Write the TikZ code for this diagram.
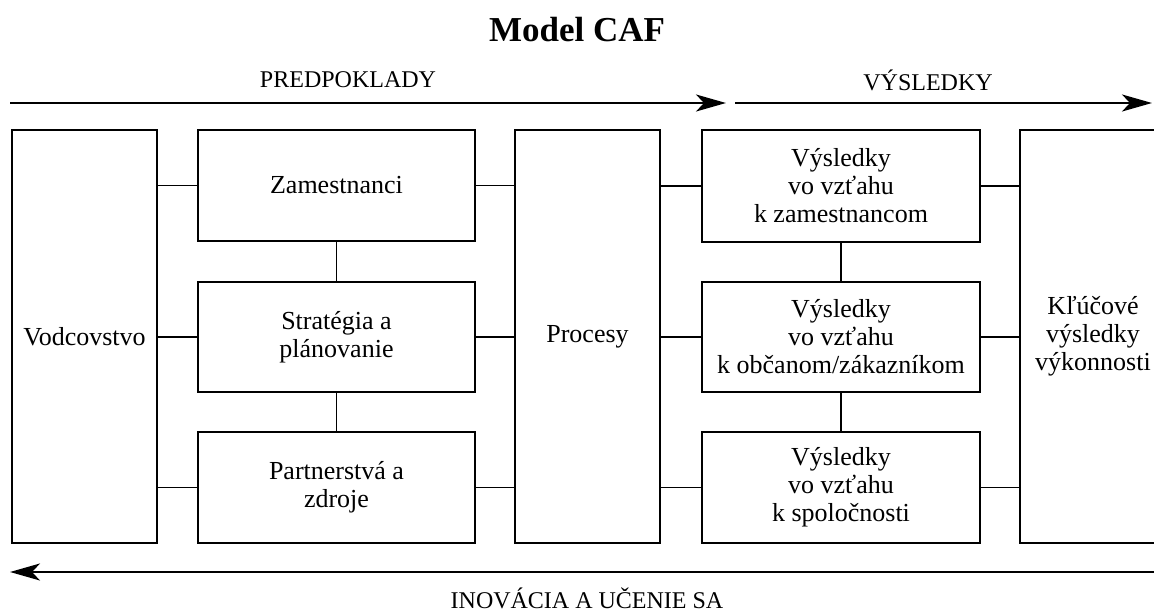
\documentclass[tikz,border=0pt]{standalone}
\usepackage{fontspec}
\setmainfont{Liberation Serif}
\usetikzlibrary{arrows.meta}
\begin{document}
\begin{tikzpicture}[x=1pt,y=-1pt,
  blk/.style={draw=black, line width=1.5pt, fill=white, align=center, inner sep=2pt,
    font=\fontsize{26}{28}\selectfont},
  link/.style={line width=1.5pt},
  flow/.style={line width=2.2pt, -{Stealth[length=30pt,width=17pt,inset=8pt]}},
  lbl/.style={font=\fontsize{24}{26}\selectfont, inner sep=0pt}]
\useasboundingbox (0,0) rectangle (1154,613);
\clip (0,0) rectangle (1154,613);
% title
\node[font=\fontsize{35}{38}\selectfont\bfseries, inner sep=0pt] (title) at (577,30) {Model CAF};
% top labels and arrows
\node[lbl] (pred) at (348,80) {PREDPOKLADY};
\node[lbl] (vys) at (928,80) {VÝSLEDKY};
\coordinate (a1s) at (10,103);
\coordinate (a1e) at (726,103);
\coordinate (a2s) at (735,103);
\coordinate (a2e) at (1152,103);
\draw[flow] (a1s) -- (a1e);
\draw[flow] (a2s) -- (a2e);
% bottom arrow
\coordinate (a3s) at (1154,572);
\coordinate (a3e) at (10,572);
\draw[flow] (a3s) -- (a3e);
\node[lbl] (inov) at (587,598) {INOVÁCIA A UČENIE SA};
% boxes
\node[blk, minimum width=145pt, minimum height=413pt] (vod) at (84.5,336.5) {Vodcovstvo};
\node[blk, minimum width=277pt, minimum height=111pt] (zam) at (336.5,185.5) {Zamestnanci};
\node[blk, minimum width=277pt, minimum height=110pt] (str) at (336.5,337) {Stratégia a\\plánovanie};
\node[blk, minimum width=277pt, minimum height=111pt] (par) at (336.5,487.5) {Partnerstvá a\\zdroje};
\node[blk, minimum width=145pt, minimum height=413pt] (pro) at (587.5,336.5) {Procesy};
\node[blk, minimum width=278pt, minimum height=112pt] (v1) at (841,186) {Výsledky\\vo vzťahu\\k zamestnancom};
\node[blk, minimum width=278pt, minimum height=110pt] (v2) at (841,337) {Výsledky\\vo vzťahu\\k občanom/zákazníkom};
\node[blk, minimum width=278pt, minimum height=111pt] (v3) at (841,487.5) {Výsledky\\vo vzťahu\\k spoločnosti};
\node[blk, minimum width=146pt, minimum height=413pt] (kvv) at (1093,336.5) {Kľúčové\\výsledky\\výkonnosti};
% horizontal links
\foreach \b in {zam,str,par}{
  \draw[link] (vod.east |- \b.west) -- (\b.west);
  \draw[link] (\b.east) -- (pro.west |- \b.east);
}
\foreach \b in {v1,v2,v3}{
  \draw[link] (pro.east |- \b.west) -- (\b.west);
  \draw[link] (\b.east) -- (kvv.west |- \b.east);
}
% vertical links
\draw[link] (zam.south) -- (str.north);
\draw[link] (str.south) -- (par.north);
\draw[link] (v1.south) -- (v2.north);
\draw[link] (v2.south) -- (v3.north);
\end{tikzpicture}
\end{document}
